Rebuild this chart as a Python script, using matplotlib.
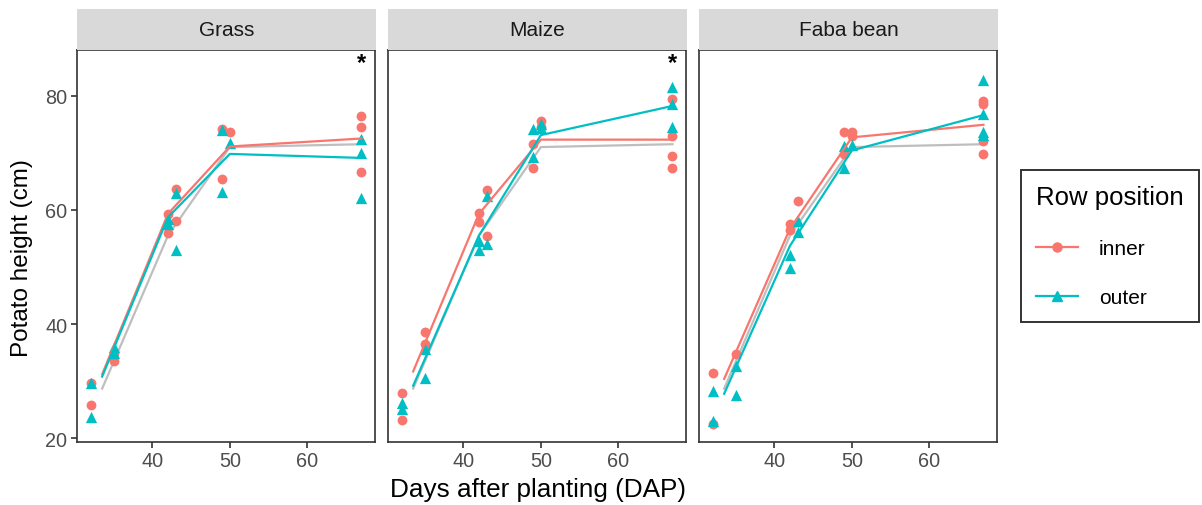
import matplotlib
matplotlib.use("Agg")
import matplotlib.pyplot as plt
from matplotlib.lines import Line2D

plt.rcParams['font.family'] = ['Liberation Sans', 'DejaVu Sans']

# --- data ---
crops = ["Grass", "Maize", "Faba bean"]
starred = ["Grass", "Maize"]

grass_inner_dap = [32, 32, 35, 35, 42, 42, 43, 43, 49, 49, 50, 67, 67, 67]
grass_inner_height = [25.8, 29.6, 33.6, 35.0, 59.3, 55.9, 63.7, 58.1, 74.2, 65.4, 73.7, 76.4, 74.6, 66.7]
grass_outer_dap = [32, 32, 35, 35, 42, 42, 43, 43, 49, 49, 50, 67, 67, 67]
grass_outer_height = [29.7, 23.8, 35.9, 35.0, 58.4, 57.5, 63.0, 53.0, 74.0, 63.1, 71.7, 72.5, 70.0, 62.0]

maize_inner_dap = [32, 32, 35, 35, 42, 42, 43, 43, 49, 49, 50, 50, 67, 67, 67, 67]
maize_inner_height = [28.0, 23.2, 38.6, 36.5, 59.5, 57.9, 63.4, 55.4, 71.5, 67.3, 75.6, 74.6, 79.4, 72.9, 69.5, 67.4]
maize_outer_dap = [32, 32, 35, 35, 42, 42, 43, 43, 49, 49, 50, 50, 67, 67, 67]
maize_outer_height = [26.1, 25.1, 35.6, 30.5, 54.6, 52.9, 62.5, 54.0, 74.2, 69.2, 75.0, 74.4, 81.5, 78.5, 74.5]

faba_inner_dap = [32, 32, 35, 42, 42, 43, 49, 49, 50, 50, 67, 67, 67, 67]
faba_inner_height = [31.4, 22.5, 34.8, 57.6, 56.4, 61.6, 73.6, 69.8, 73.7, 73.0, 79.1, 78.5, 72.1, 69.8]
faba_outer_dap = [32, 32, 35, 35, 42, 42, 43, 43, 49, 49, 50, 67, 67, 67, 67]
faba_outer_height = [28.2, 23.1, 32.7, 27.5, 52.1, 49.9, 58.1, 56.1, 71.1, 67.4, 71.4, 82.7, 76.8, 73.6, 73.1]

# mean lines
line_dap = [33.5, 42, 50, 67]
grass_inner_mean = [31.2, 59.3, 71.1, 72.5]
grass_outer_mean = [30.8, 58.7, 69.8, 69.1]
maize_inner_mean = [31.7, 59.3, 72.3, 72.3]
maize_outer_mean = [29.2, 55.5, 73.1, 78.2]
faba_inner_mean = [30.4, 56.7, 72.7, 74.9]
faba_outer_mean = [27.8, 53.7, 70.4, 76.6]
overall_mean = [28.7, 55.5, 71.0, 71.5]

points = {
    "Grass": (grass_inner_dap, grass_inner_height, grass_outer_dap, grass_outer_height),
    "Maize": (maize_inner_dap, maize_inner_height, maize_outer_dap, maize_outer_height),
    "Faba bean": (faba_inner_dap, faba_inner_height, faba_outer_dap, faba_outer_height),
}
means = {
    "Grass": (grass_inner_mean, grass_outer_mean),
    "Maize": (maize_inner_mean, maize_outer_mean),
    "Faba bean": (faba_inner_mean, faba_outer_mean),
}

RED = "#F8766D"
TEAL = "#00BFC4"
GREY = "#BEBEBE"
DARK = "#333333"

W, H = 1202, 506
fig = plt.figure(figsize=(W / 100, H / 100), dpi=100)

lefts = [77, 388, 699]
pw = 298
top, bottom = 51, 442.7

for i, crop in enumerate(crops):
    ax = fig.add_axes([lefts[i] / W, 1 - bottom / H, pw / W, (bottom - top) / H])
    xi, yi, xo, yo = points[crop]
    mi, mo = means[crop]

    ax.plot(line_dap, overall_mean, color=GREY, lw=1.6, zorder=1)
    ax.scatter(xi, yi, marker='o', s=50, color=RED, linewidths=0, zorder=2)
    ax.scatter(xo, yo, marker='^', s=66, color=TEAL, linewidths=0, zorder=2)
    ax.plot(line_dap, mi, color=RED, lw=1.6, zorder=3)
    ax.plot(line_dap, mo, color=TEAL, lw=1.6, zorder=3)

    if crop in starred:
        ax.text(67, 85.8, "*", ha='center', va='center', fontsize=17,
                fontweight='bold', color='black')

    ax.set_xlim(30.25, 68.75)
    ax.set_ylim(19.4, 88.0)
    ax.set_xticks([40, 50, 60])
    ax.set_yticks([20, 40, 60, 80])
    for s in ax.spines.values():
        s.set_color(DARK)
        s.set_linewidth(1.2)
    ax.tick_params(axis='both', color=DARK, width=1.2, length=4.5, labelsize=14.3,
                   labelcolor="#4D4D4D", pad=2.5)
    if i > 0:
        ax.tick_params(axis='y', left=False, labelleft=False)

    # strip
    strip = fig.add_axes([lefts[i] / W, 1 - top / H, (pw + 1) / W, 41 / H])
    strip.set_xticks([])
    strip.set_yticks([])
    strip.set_facecolor("#D9D9D9")
    for s in strip.spines.values():
        s.set_visible(False)
    strip.text(0.5, 0.5, crop, ha='center', va='center', fontsize=15, color="#1A1A1A",
               transform=strip.transAxes)

fig.text(538 / W, 1 - 490 / H, "Days after planting (DAP)", ha='center', va='center',
         fontsize=18.8, color='black')
fig.text(22 / W, 1 - 258 / H, "Potato height (cm)", ha='center', va='center',
         rotation=90, fontsize=17.5, color='black')

handles = [
    Line2D([], [], color=RED, marker='o', markersize=6.5, lw=1.6),
    Line2D([], [], color=TEAL, marker='^', markersize=7, lw=1.6),
]
leg = fig.legend(handles, ["inner", "outer"], title="Row position",
                 loc='center', bbox_to_anchor=(1110 / W, 1 - 247 / H),
                 fontsize=15, title_fontsize=18.5, frameon=True, fancybox=False,
                 handlelength=2.0, labelspacing=1.45, borderpad=0.72, handletextpad=1.0,
                 borderaxespad=0)
leg.get_frame().set_edgecolor('black')
leg.get_frame().set_linewidth(1.4)
leg._legend_box.align = "left"

fig.savefig("out.png", dpi=100)
